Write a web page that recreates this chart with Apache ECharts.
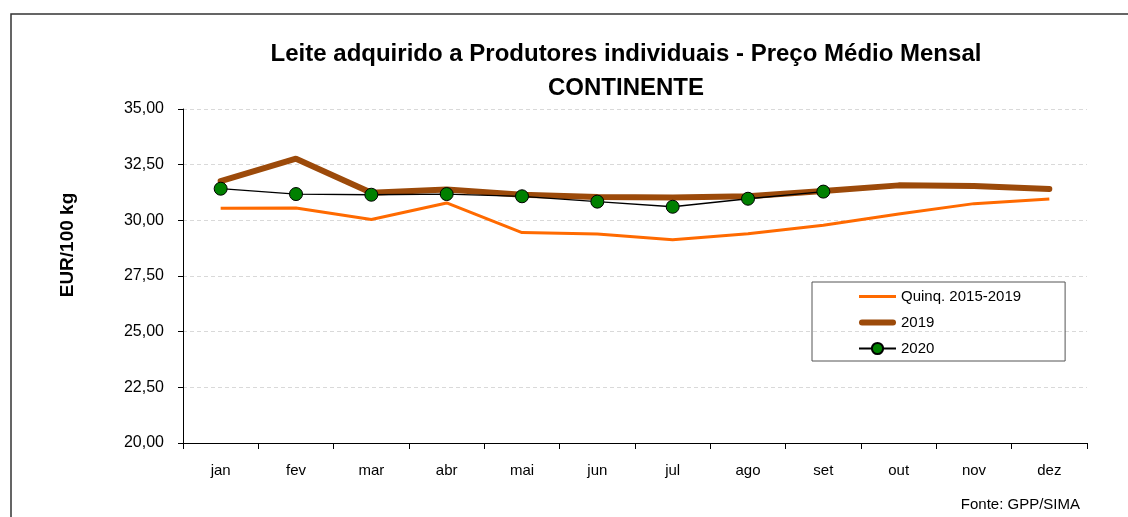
<!DOCTYPE html>
<html><head><meta charset="utf-8">
<script src="https://cdn.jsdelivr.net/npm/echarts@6/dist/echarts.min.js"></script>
<style>html,body{margin:0;padding:0;background:#fff}#c{width:1128px;height:517px}</style>
</head><body><div id="c"></div>
<script>
var months = ['jan','fev','mar','abr','mai','jun','jul','ago','set','out','nov','dez'];
var quinq = [30.54,30.55,30.04,30.78,29.45,29.39,29.13,29.40,29.78,30.28,30.75,30.96];
var y2019 = [31.76,32.77,31.24,31.38,31.15,31.05,31.02,31.08,31.32,31.57,31.54,31.41];
var y2020 = [31.42,31.18,31.15,31.18,31.08,30.84,30.61,30.97,31.29,null,null,null];
var titleText = 'Leite adquirido a Produtores individuais - Preço Médio Mensal\nCONTINENTE';
var yName = 'EUR/100 kg';
var source = 'Fonte: GPP/SIMA';
var F = 'Liberation Sans';
var thinIcon = 'path://M0,0M37,14M0,5.5h37v3h-37z';
var thickIcon = 'path://M0,0M37,14M3,4h31a3,3 0 0 1 0,6h-31a3,3 0 0 1 0,-6z';
var chart = echarts.init(document.getElementById('c'), null, {renderer:'canvas'});
chart.setOption({
  animation:false,
  backgroundColor:'#fff',
  textStyle:{fontFamily:F},
  title:{text:titleText,left:621,top:32,textAlign:'center',
    textStyle:{fontFamily:F,fontWeight:'bold',fontSize:24,lineHeight:34,color:'#000'}},
  graphic:[
    {type:'rect',shape:{x:11,y:14,width:1200,height:600},style:{fill:'none',stroke:'#333',lineWidth:1.5},silent:true,z:-1},
    {type:'text',right:48,top:497,style:{text:source,font:'15px "Liberation Sans"',fill:'#000'}},
    {type:'text',x:68,y:245,rotation:Math.PI/2,
      style:{text:yName,font:'bold 19px "Liberation Sans"',fill:'#000',align:'center',verticalAlign:'middle'}}
  ],
  grid:{left:183,right:41,top:109,bottom:74,containLabel:false},
  legend:{orient:'vertical',left:812,top:282,
    data:[{name:'Quinq. 2015-2019',icon:thinIcon},{name:'2019',icon:thickIcon},{name:'2020'}],
    borderColor:'#555',borderWidth:1,borderRadius:0,
    padding:[7,44,5,46],itemGap:11,itemWidth:37,itemHeight:14,
    textStyle:{fontFamily:F,fontSize:15,color:'#000'}},
  xAxis:{type:'category',data:months,boundaryGap:true,
    axisLine:{lineStyle:{color:'#000',width:1}},
    axisTick:{show:true,length:6,lineStyle:{color:'#000'}},
    axisLabel:{color:'#000',fontFamily:F,fontSize:15,margin:20}},
  yAxis:{type:'value',min:20,max:35,interval:2.5,
    axisLine:{show:true,lineStyle:{color:'#000',width:1}},
    axisTick:{show:true,length:5,lineStyle:{color:'#000'}},
    axisLabel:{color:'#000',fontFamily:F,fontSize:16,margin:19,
      formatter:function(v){return v.toFixed(2).replace('.',',');}},
    splitLine:{show:true,lineStyle:{color:'#d9d9d9',type:[4,3],width:1}}},
  series:[
    {name:'Quinq. 2015-2019',type:'line',data:quinq,symbol:'none',
      lineStyle:{color:'#ff6a00',width:3},itemStyle:{color:'#ff6a00'},z:2},
    {name:'2019',type:'line',data:y2019,symbol:'none',
      lineStyle:{color:'#9c4a0a',width:6,cap:'round'},itemStyle:{color:'#9c4a0a'},z:3},
    {name:'2020',type:'line',data:y2020,symbol:'circle',symbolSize:13,showSymbol:true,
      lineStyle:{color:'#000',width:1.3},
      itemStyle:{color:'#008000',borderColor:'#000',borderWidth:1},z:4}
  ]
});
</script></body></html>
